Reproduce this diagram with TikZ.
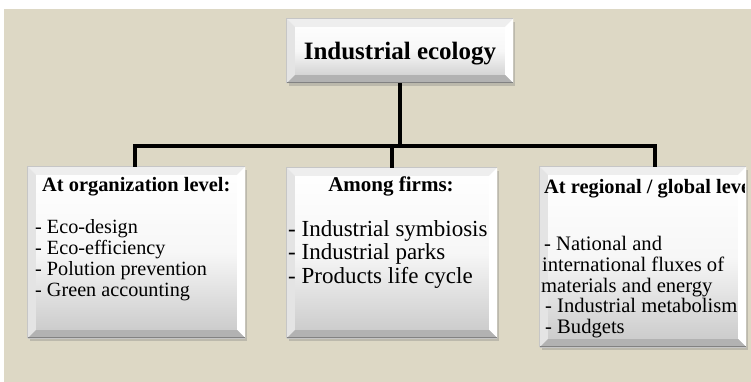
\documentclass[tikz,border=0pt]{standalone}
\usepackage{fontspec}
\setmainfont{Liberation Serif}
\usetikzlibrary{shadows}
\definecolor{bgbeige}{RGB}{221,216,197}
\definecolor{facegray}{RGB}{200,200,200}
\definecolor{bvtopc}{RGB}{238,238,238}
\definecolor{bvleftc}{RGB}{228,228,228}
\definecolor{bvbotc}{RGB}{178,178,178}
\definecolor{edgec}{RGB}{130,130,130}
\newcommand\bvl[1]{%
  \fill[bvtopc] (#1.north west) -- (#1.north east) -- ([xshift=-8pt,yshift=-8pt]#1.north east) -- ([xshift=8pt,yshift=-8pt]#1.north west) -- cycle;
  \fill[bvleftc] (#1.north west) -- ([xshift=8pt,yshift=-8pt]#1.north west) -- ([xshift=8pt,yshift=8pt]#1.south west) -- (#1.south west) -- cycle;
  \fill[white] (#1.north east) -- ([xshift=-8pt,yshift=-8pt]#1.north east) -- ([xshift=-8pt,yshift=8pt]#1.south east) -- (#1.south east) -- cycle;
  \fill[bvbotc] (#1.south west) -- ([xshift=8pt,yshift=8pt]#1.south west) -- ([xshift=-8pt,yshift=8pt]#1.south east) -- (#1.south east) -- cycle;
  \draw[gray!45, line width=0.8pt] (#1.south west) -- (#1.north west) -- (#1.north east);
  \draw[edgec, line width=1.2pt] ([yshift=0.6pt]#1.south west) -- ([yshift=0.6pt]#1.south east);
}
\begin{document}
\begin{tikzpicture}[x=1pt,y=-1pt,
  bbox/.style={draw=none, inner sep=0pt, top color=white, bottom color=facegray, middle color=white!85!facegray,
    drop shadow={opacity=0.35, shadow xshift=1.5pt, shadow yshift=-3pt}},
  conn/.style={draw=black, line width=3.6pt},
  txt/.style={inner sep=0pt, anchor=base west, text=black},
  hdA/.style={txt, font=\bfseries\fontsize{20.4}{22}\selectfont},
  bodyL/.style={txt, font=\fontsize{20.2}{21}\selectfont},
  bodyM/.style={txt, font=\fontsize{23}{24}\selectfont},
  bodyR/.style={txt, font=\fontsize{20.6}{21}\selectfont}]
\useasboundingbox (0,0) rectangle (751,382);
\fill[white] (0,0) rectangle (751,382);
\fill[bgbeige] (4,9) rectangle (751,382);
% boxes
\node[bbox, minimum width=226pt, minimum height=64pt] (top) at (400,51) {};
\node[bbox, minimum width=217pt, minimum height=171pt] (left) at (136.5,252.5) {};
\node[bbox, minimum width=210pt, minimum height=170pt] (mid) at (392,253) {};
\node[bbox, minimum width=206pt, minimum height=180pt] (right) at (643,257) {};
\bvl{top}\bvl{left}\bvl{mid}\bvl{right}
% connectors
\coordinate (jl) at (135,146);
\coordinate (jr) at (655,146);
\draw[conn] (top.south) -- (top.south |- jr);
\draw[conn] (jl |- left.north) -- (jl) -- (jr) -- (jr |- right.north);
\draw[conn] (mid.north) -- (mid.north |- jr);
% texts
\node[txt, anchor=base, font=\bfseries\fontsize{25}{28}\selectfont] (ttl) at (400,60) {Industrial ecology};
\node[hdA] (lh) at (42,191) {At organization level:};
\foreach \t/\yy [count=\i] in {- Eco-design/233, - Eco-efficiency/254, - Polution prevention/275, - Green accounting/296}
  \node[bodyL] (lb\i) at (35,\yy) {\t};
\node[hdA, anchor=base, font=\bfseries\fontsize{21}{22}\selectfont] (mh) at (391,191) {Among firms:};
\foreach \t/\yy [count=\i] in {- Industrial symbiosis/236, - Industrial parks/259.5, - Products life cycle/283}
  \node[bodyM] (mb\i) at (288,\yy) {\t};
\begin{scope}
  \clip (right.north west) rectangle ([xshift=-2pt]right.south east);
  \node[hdA] (rh) at (544,193) {At regional / global level:};
\end{scope}
\foreach \t/\xx/\yy [count=\i] in {- National and/544/250, international fluxes of/542/271, materials and energy/541/292, - Industrial metabolism/545/312.5, - Budgets/545/333}
  \node[bodyR] (rb\i) at (\xx,\yy) {\t};
\end{tikzpicture}
\end{document}
